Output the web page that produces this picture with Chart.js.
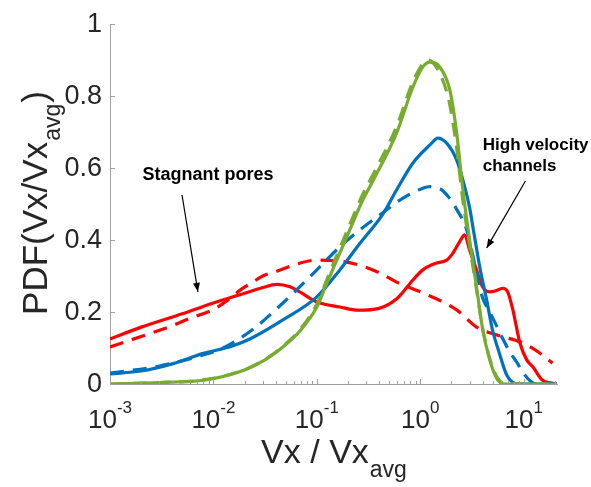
<!DOCTYPE html>
<html>
<head>
<meta charset="utf-8">
<script src="https://cdn.jsdelivr.net/npm/chart.js@4"></script>
<style>
  html, body { margin: 0; padding: 0; background: #fff; }
  #wrap { width: 591px; height: 487px; }
</style>
</head>
<body>
<div id="wrap"><canvas id="grafico" width="591" height="487"></canvas></div>
<script>
// dados (Vx/Vx_avg, PDF)
const redSolidX = [0.001, 0.002, 0.005, 0.01, 0.02, 0.03, 0.041, 0.055, 0.069, 0.1, 0.167, 0.25, 0.4, 0.6, 0.85, 1.06, 1.44, 1.8, 2.06, 2.4, 2.69, 3.0, 3.5, 4.0, 4.7, 5.5, 6.3, 7.0, 7.8, 9.2, 10.7, 12.3, 15, 19, 21];
const redSolidY = [0.125, 0.158, 0.195, 0.225, 0.252, 0.268, 0.277, 0.27, 0.255, 0.228, 0.214, 0.205, 0.21, 0.238, 0.289, 0.317, 0.336, 0.344, 0.363, 0.395, 0.414, 0.372, 0.317, 0.27, 0.256, 0.26, 0.266, 0.256, 0.21, 0.114, 0.067, 0.047, 0.012, 0.002, 0];

const redDashX = [0.001, 0.002, 0.004, 0.006, 0.01, 0.014, 0.018, 0.024, 0.03, 0.041, 0.059, 0.1, 0.178, 0.26, 0.41, 0.59, 1.06, 2.25, 3.5, 5.5, 9.8, 14.3, 19];
const redDashY = [0.103, 0.132, 0.162, 0.183, 0.207, 0.235, 0.26, 0.283, 0.3, 0.313, 0.33, 0.344, 0.34, 0.33, 0.308, 0.283, 0.253, 0.206, 0.158, 0.136, 0.114, 0.086, 0.058];

const blueSolidX = [0.001, 0.002, 0.004, 0.008, 0.015, 0.0225, 0.047, 0.1, 0.167, 0.26, 0.43, 0.59, 0.85, 1.24, 1.48, 1.8, 2.25, 2.58, 3.0, 3.3, 3.76, 4.39, 5.0, 5.9, 6.85, 7.8, 9, 21];
const blueSolidY = [0.028, 0.036, 0.056, 0.085, 0.105, 0.125, 0.178, 0.242, 0.317, 0.39, 0.47, 0.539, 0.614, 0.664, 0.683, 0.669, 0.622, 0.567, 0.49, 0.42, 0.325, 0.233, 0.15, 0.08, 0.025, 0.005, 0, 0];

const blueDashX = [0.001, 0.003, 0.0074, 0.013, 0.0236, 0.047, 0.1, 0.167, 0.26, 0.43, 0.63, 1.06, 1.24, 1.6, 1.93, 2.25, 2.8, 3.5, 4.0, 4.7, 5.5, 6.3, 7.3, 8.6, 9.8, 11.4, 13.4, 21];
const blueDashY = [0.03, 0.05, 0.078, 0.103, 0.15, 0.225, 0.317, 0.381, 0.428, 0.475, 0.51, 0.544, 0.548, 0.54, 0.515, 0.485, 0.43, 0.31, 0.24, 0.2, 0.16, 0.125, 0.09, 0.06, 0.033, 0.01, 0, 0];

const greenSolidX = [0.001, 0.003, 0.0083, 0.02, 0.0315, 0.047, 0.069, 0.1, 0.125, 0.156, 0.208, 0.278, 0.35, 0.59, 0.85, 1.06, 1.24, 1.54, 1.93, 2.25, 2.58, 3.0, 3.5, 4.0, 4.7, 5.5, 6.5, 21];
const greenSolidY = [0, 0.004, 0.011, 0.039, 0.067, 0.103, 0.148, 0.214, 0.28, 0.344, 0.428, 0.511, 0.565, 0.697, 0.825, 0.881, 0.894, 0.881, 0.817, 0.697, 0.54, 0.4, 0.27, 0.155, 0.067, 0.015, 0, 0];

const greenDashX = [0.001, 0.003, 0.0083, 0.02, 0.0315, 0.047, 0.069, 0.1, 0.125, 0.156, 0.208, 0.278, 0.35, 0.59, 0.85, 1.06, 1.18, 1.5, 1.9, 2.25, 2.58, 3.0, 3.5, 4.0, 4.7, 5.5, 6.8, 21];
const greenDashY = [0, 0.004, 0.012, 0.04, 0.068, 0.105, 0.152, 0.222, 0.29, 0.357, 0.443, 0.527, 0.582, 0.715, 0.84, 0.89, 0.9, 0.87, 0.785, 0.655, 0.51, 0.385, 0.262, 0.155, 0.07, 0.02, 0, 0];

// eixos
const xMin = 0.001;
const xMax = 21;
const xTickPowers = [-3, -2, -1, 0, 1];
const yTicks = [0, 0.2, 0.4, 0.6, 0.8, 1];
const yTickLabels = ["0", "0.2", "0.4", "0.6", "0.8", "1"];

// anotações (posição em coordenadas de dados)
const notaEstagnado = { texto: ["Stagnant pores"], x: 0.00885, y: 0.566, de: [0.00497, 0.525], para: [0.00708, 0.256], alinhar: "center", tamanho: 18 };
const notaCanais = { texto: ["High velocity", "channels"], x: 4.02, y: 0.65, de: [10.4, 0.564], para: [4.39, 0.378], alinhar: "left", tamanho: 17 };

const VERMELHO = "#ff0000";
const AZUL = "#0072bd";
const VERDE = "#77ac30";
const TRACO = [14, 9];

function pontos(xs, ys) {
  return xs.map((x, i) => ({ x: x, y: ys[i] }));
}

function serie(nome, xs, ys, cor, tracejada) {
  return {
    label: nome,
    data: pontos(xs, ys),
    borderColor: cor,
    borderWidth: 3.2,
    borderDash: tracejada ? TRACO : [],
    pointRadius: 0,
    fill: false,
    cubicInterpolationMode: "monotone"
  };
}

const FONTE = '"Liberation Sans", Arial, Helvetica, sans-serif';
const COR_TEXTO = "#262626";

function seta(ctx, x1, y1, x2, y2) {
  ctx.strokeStyle = "#000";
  ctx.fillStyle = "#000";
  ctx.lineWidth = 1.2;
  ctx.beginPath();
  ctx.moveTo(x1, y1);
  ctx.lineTo(x2, y2);
  ctx.stroke();
  const ang = Math.atan2(y2 - y1, x2 - x1);
  const L = 9, W = 3.5;
  ctx.beginPath();
  ctx.moveTo(x2, y2);
  ctx.lineTo(x2 - L * Math.cos(ang) + W * Math.sin(ang), y2 - L * Math.sin(ang) - W * Math.cos(ang));
  ctx.lineTo(x2 - L * Math.cos(ang) - W * Math.sin(ang), y2 - L * Math.sin(ang) + W * Math.cos(ang));
  ctx.closePath();
  ctx.fill();
}

const decoracao = {
  id: "decoracao",
  afterDraw(chart) {
    const ctx = chart.ctx;
    const sx = chart.scales.x;
    const sy = chart.scales.y;
    ctx.save();

    // marcas dos eixos (para dentro)
    ctx.strokeStyle = "#a0a0a0";
    ctx.lineWidth = 1;
    yTicks.forEach(v => {
      const py = Math.round(sy.getPixelForValue(v)) + 0.5;
      ctx.beginPath();
      ctx.moveTo(sx.left, py);
      ctx.lineTo(sx.left + 5, py);
      ctx.stroke();
    });
    xTickPowers.forEach(p => {
      for (let m = 1; m <= 9; m++) {
        const v = m * Math.pow(10, p);
        if (v > xMax) break;
        const px = Math.round(sx.getPixelForValue(v)) + 0.5;
        ctx.beginPath();
        ctx.moveTo(px, sy.bottom);
        ctx.lineTo(px, sy.bottom - (m === 1 ? 5 : 3));
        ctx.stroke();
      }
    });

    // rótulos do eixo y
    ctx.fillStyle = COR_TEXTO;
    ctx.font = "27px " + FONTE;
    ctx.textAlign = "right";
    ctx.textBaseline = "middle";
    yTicks.forEach((v, i) => {
      ctx.fillText(yTickLabels[i], sx.left - 8, sy.getPixelForValue(v) + 1);
    });

    // rótulos do eixo x: 10^p
    ctx.textAlign = "left";
    ctx.textBaseline = "alphabetic";
    xTickPowers.forEach(p => {
      const px = sx.getPixelForValue(Math.pow(10, p));
      ctx.font = "26px " + FONTE;
      const w1 = ctx.measureText("10").width;
      ctx.font = "17px " + FONTE;
      const exp = p < 0 ? "-" + Math.abs(p) : String(p);
      const w2 = ctx.measureText(exp).width;
      const x0 = px - (w1 + w2) / 2;
      ctx.font = "26px " + FONTE;
      ctx.fillText("10", x0, 428);
      ctx.font = "17px " + FONTE;
      ctx.fillText(exp, x0 + w1, 413);
    });

    // título do eixo x
    const tx1 = "Vx / Vx", sub = "avg";
    ctx.font = "34px " + FONTE;
    const wa = ctx.measureText(tx1).width;
    ctx.font = "23px " + FONTE;
    const wb = ctx.measureText(sub).width;
    const cx = (sx.left + sx.right) / 2;
    let x0 = cx - (wa + wb) / 2;
    ctx.font = "34px " + FONTE;
    ctx.fillText(tx1, x0, 463);
    ctx.font = "23px " + FONTE;
    ctx.fillText(sub, x0 + wa + 1, 477);

    // título do eixo y (rodado)
    ctx.save();
    ctx.translate(47, 204);
    ctx.rotate(-Math.PI / 2);
    const ty1 = "PDF(Vx/Vx", ty2 = ")";
    ctx.font = "35px " + FONTE;
    const wy1 = ctx.measureText(ty1).width;
    const wy3 = ctx.measureText(ty2).width;
    ctx.font = "23px " + FONTE;
    const wy2 = ctx.measureText(sub).width;
    let y0 = -(wy1 + wy2 + wy3) / 2;
    ctx.font = "35px " + FONTE;
    ctx.fillText(ty1, y0, 0);
    ctx.font = "23px " + FONTE;
    ctx.fillText(sub, y0 + wy1 + 1, 13);
    ctx.font = "35px " + FONTE;
    ctx.fillText(ty2, y0 + wy1 + wy2 + 2, 0);
    ctx.restore();

    // anotações
    [notaEstagnado, notaCanais].forEach(n => {
      ctx.fillStyle = "#000";
      ctx.font = "bold " + n.tamanho + "px " + FONTE;
      ctx.textAlign = n.alinhar;
      const px = sx.getPixelForValue(n.x);
      const py = sy.getPixelForValue(n.y);
      n.texto.forEach((t, i) => ctx.fillText(t, px, py + i * 21));
      seta(ctx, sx.getPixelForValue(n.de[0]), sy.getPixelForValue(n.de[1]),
        sx.getPixelForValue(n.para[0]), sy.getPixelForValue(n.para[1]));
    });

    ctx.restore();
  }
};

const ctx = document.getElementById("grafico").getContext("2d");
new Chart(ctx, {
  type: "line",
  data: {
    datasets: [
      serie("green dashed", greenDashX, greenDashY, VERDE, true),
      serie("green", greenSolidX, greenSolidY, VERDE, false),
      serie("blue dashed", blueDashX, blueDashY, AZUL, true),
      serie("blue", blueSolidX, blueSolidY, AZUL, false),
      serie("red dashed", redDashX, redDashY, VERMELHO, true),
      serie("red", redSolidX, redSolidY, VERMELHO, false)
    ]
  },
  options: {
    responsive: false,
    animation: false,
    devicePixelRatio: 1,
    layout: { padding: { left: 110, right: 34, top: 24, bottom: 103 } },
    plugins: { legend: { display: false }, tooltip: { enabled: false } },
    scales: {
      x: {
        type: "logarithmic",
        min: xMin,
        max: xMax,
        afterFit: s => { s.height = 0; },
        grid: { display: false },
        border: { display: true, color: "#a0a0a0", width: 1 },
        ticks: { display: false }
      },
      y: {
        type: "linear",
        min: 0,
        max: 1,
        afterFit: s => { s.width = 0; },
        grid: { display: false },
        border: { display: true, color: "#a0a0a0", width: 1 },
        ticks: { display: false }
      }
    }
  },
  plugins: [decoracao]
});
</script>
</body>
</html>
